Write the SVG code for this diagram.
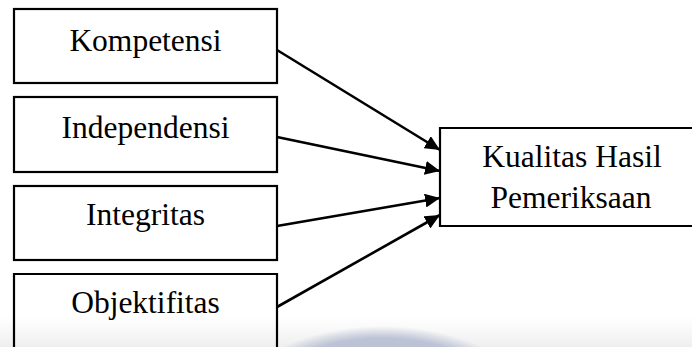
<svg xmlns="http://www.w3.org/2000/svg" width="692" height="347" viewBox="0 0 692 347">
<style>
.box{fill:none;stroke:#000;stroke-width:2.2}
.lbl{font-family:"Liberation Serif","Times New Roman",serif;font-size:31.5px;fill:#000;text-anchor:middle}
.conn line{stroke:#000;stroke-width:2.6;marker-end:url(#ah)}
</style>
<defs>
<marker id="ah" markerUnits="userSpaceOnUse" markerWidth="16" markerHeight="14" refX="15" refY="7" orient="auto">
<path d="M0,0 L15,7 L0,14 Z" fill="#000"/>
</marker>
<radialGradient id="wm" cx="0.5" cy="0.5" r="0.5">
<stop offset="0" stop-color="#b4bcd0"/>
<stop offset="0.85" stop-color="#bcc3d5"/>
<stop offset="1" stop-color="#bcc3d5" stop-opacity="0"/>
</radialGradient>
<linearGradient id="band" x1="0" y1="0" x2="0" y2="1">
<stop offset="0" stop-color="#f2f2f2" stop-opacity="0"/>
<stop offset="1" stop-color="#eeeeee"/>
</linearGradient>
</defs>
<rect width="692" height="347" fill="#fff"/>
<g id="watermark">
<rect x="0" y="316" width="692" height="31" fill="url(#band)"/>
<ellipse cx="382" cy="408" rx="150" ry="82" fill="url(#wm)"/>
</g>
<g id="n-kompetensi">
<rect class="box" x="14" y="9" width="263" height="74"/>
<text class="lbl" x="145.5" y="50.5">Kompetensi</text>
</g>
<g id="n-independensi">
<rect class="box" x="14" y="97" width="263" height="75"/>
<text class="lbl" x="145.5" y="137.5">Independensi</text>
</g>
<g id="n-integritas">
<rect class="box" x="14" y="186" width="263" height="74"/>
<text class="lbl" x="145.5" y="225">Integritas</text>
</g>
<g id="n-objektifitas">
<path class="box" d="M14,360 L14,274 L277,274 L277,360"/>
<text class="lbl" x="145.5" y="313">Objektifitas</text>
</g>
<g id="n-kualitas">
<path class="box" d="M700,128 L440,128 L440,226 L700,226"/>
<text class="lbl" x="572" y="167">Kualitas Hasil</text>
<text class="lbl" x="571" y="208">Pemeriksaan</text>
</g>
<g id="connectors" class="conn">
<line x1="277" y1="50" x2="440" y2="150"/>
<line x1="277" y1="137" x2="440" y2="171"/>
<line x1="277" y1="226" x2="440" y2="198"/>
<line x1="277" y1="307" x2="440" y2="215"/>
</g>
</svg>
